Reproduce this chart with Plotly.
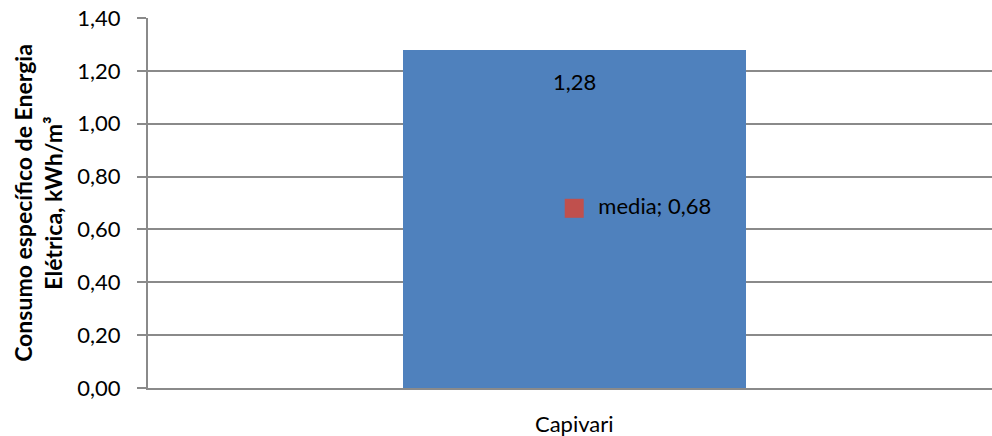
import plotly.graph_objects as go

categories = ["Capivari"]
consumo = [1.28]
media_name = "media"
media_value = [0.68]
y_ticks = [0.0, 0.2, 0.4, 0.6, 0.8, 1.0, 1.2, 1.4]

FONT = "Lato, Open Sans, sans-serif"
GRID = "#8a8a8a"

fig = go.Figure()
fig.add_trace(go.Bar(
    x=categories, y=consumo, marker_color="#4F81BD", marker_line_width=0,
    width=0.406, showlegend=False, hoverinfo="skip"))
fig.add_trace(go.Scatter(
    x=categories, y=media_value, mode="markers+text",
    marker=dict(symbol="square", size=19, color="#C0504D"),
    text=["  " + f"{media_name}; {v:.2f}".replace(".", ",") for v in media_value],
    textposition="middle right", textfont=dict(size=22, color="#000", family=FONT),
    showlegend=False, hoverinfo="skip"))
for c, v in zip(categories, consumo):
    fig.add_annotation(x=c, y=v, yshift=-32, text=f"{v:.2f}".replace(".", ","),
                       showarrow=False, font=dict(size=22, color="#000", family=FONT))

fig.update_layout(
    width=992, height=436,
    margin=dict(l=148, r=0, t=18, b=48, autoexpand=False),
    paper_bgcolor="white", plot_bgcolor="white",
    separators=", ",
    font=dict(family=FONT, size=22, color="#000"),
    bargap=0,
)
fig.update_xaxes(
    type="category", range=[-0.505, 0.495], automargin=False,
    showline=True, linecolor=GRID, linewidth=2,
    ticks="", showgrid=False, tickfont=dict(size=22), ticklabelstandoff=16)
fig.update_yaxes(
    range=[0, 1.4], tickvals=y_ticks, tickformat=".2f", automargin=False,
    showline=True, linecolor=GRID, linewidth=2,
    ticks="outside", ticklen=9, tickcolor=GRID, tickwidth=2,
    showgrid=True, gridcolor=GRID, gridwidth=1.5, zeroline=False,
    tickfont=dict(size=22), ticklabelstandoff=12,
    title=dict(text="<b>Consumo específico de Energia<br>Elétrica, kWh/m³</b>",
               font=dict(size=23, family=FONT), standoff=8))
fig.write_html("out.html", config={"displayModeBar": False},
               post_script="document.body.style.margin='0';")
